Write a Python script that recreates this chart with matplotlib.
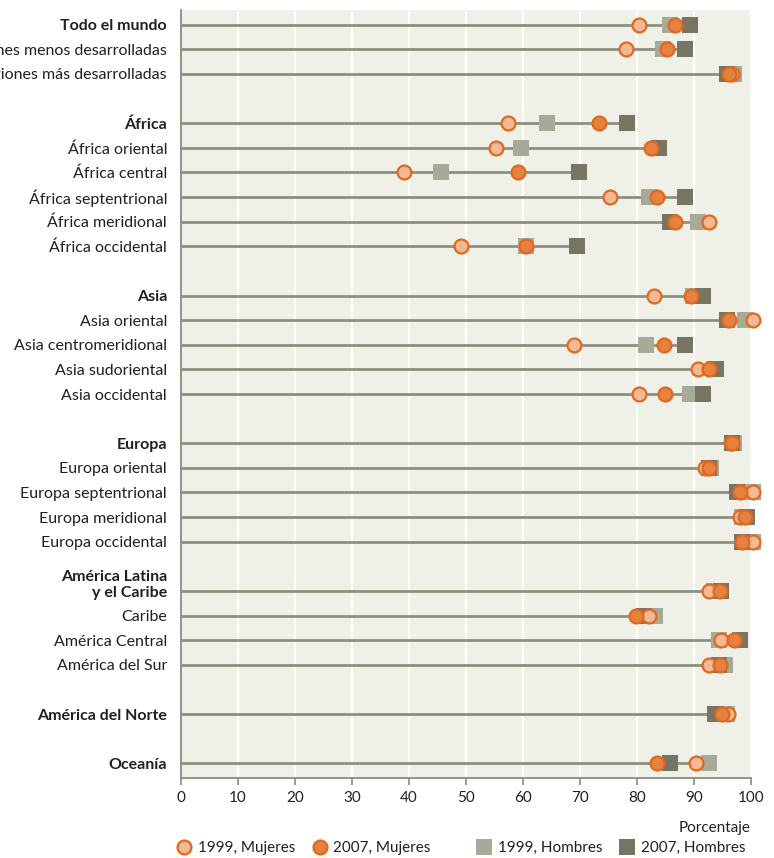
import matplotlib
matplotlib.use("Agg")
import matplotlib.pyplot as plt
import matplotlib.transforms as mtransforms
from matplotlib.lines import Line2D
import numpy as np

plt.rcParams["font.family"] = ["Lato", "DejaVu Sans"]

# regions, listed per block; blocks are separated by an empty row
GROUPS = [
    ["Todo el mundo", "Regiones menos desarrolladas", "Regiones más desarrolladas"],
    ["África", "África oriental", "África central", "África septentrional",
     "África meridional", "África occidental"],
    ["Asia", "Asia oriental", "Asia centromeridional", "Asia sudoriental",
     "Asia occidental"],
    ["Europa", "Europa oriental", "Europa septentrional", "Europa meridional",
     "Europa occidental"],
    ["América Latina\ny el Caribe", "Caribe", "América Central", "América del Sur"],
    ["América del Norte"],
    ["Oceanía"],
]
BOLD = {"Todo el mundo", "África", "Asia", "Europa",
        "América Latina\ny el Caribe", "América del Norte", "Oceanía"}

# percentage values, one per region in the order above
mujeres_1999 = [80.3, 78.0, 96.6, 57.4, 55.2, 39.2, 75.2, 92.6, 49.2,
                82.9, 100.3, 68.9, 90.7, 80.3,
                96.5, 91.9, 100.3, 98.0, 100.3,
                92.6, 82.1, 94.8, 92.6, 95.9, 90.3]
mujeres_2007 = [86.7, 85.3, 96.2, 73.4, 82.5, 59.2, 83.5, 86.6, 60.6,
                89.5, 96.2, 84.8, 92.6, 84.9,
                96.7, 92.6, 98.1, 98.9, 98.5,
                94.5, 79.9, 97.1, 94.5, 94.9, 83.5]
hombres_1999 = [85.8, 84.5, 97.1, 64.2, 59.7, 45.7, 82.1, 90.7, 60.6,
                89.9, 99.0, 81.6, 93.5, 89.3,
                97.1, 93.0, 100.4, 98.5, 100.4,
                93.5, 83.1, 94.4, 95.4, 95.8, 92.7]
hombres_2007 = [89.3, 88.5, 95.8, 78.3, 83.8, 69.8, 88.5, 85.8, 69.5,
                91.6, 95.8, 88.5, 93.9, 91.6,
                96.7, 92.7, 97.6, 99.3, 98.5,
                94.8, 81.3, 98.1, 94.4, 93.6, 85.8]

LINE = "#8e907f"
AXIS = "#8a8c7c"
C_M99 = "#f2b995"
C_M07 = "#e5823f"
C_EDGE = "#e0681f"
C_H99 = "#a8aa98"
C_H07 = "#777562"
BG = "#eff0e7"
TXT = "#231f20"

# row slots: one blank slot between blocks
labels, rows = [], []
pos = 0
for g in GROUPS:
    for name in g:
        labels.append(name)
        rows.append(pos)
        pos += 1
    pos += 1
rows = np.array(rows)

fig = plt.figure(figsize=(7.74, 8.58), dpi=100)
ax = fig.add_axes([181 / 774, 1 - 778 / 858, 570 / 774, 768 / 858])
ax.set_facecolor(BG)

ends = np.max([mujeres_1999, mujeres_2007, hombres_1999, hombres_2007], axis=0)
ax.hlines(rows, 0, ends, color=LINE, lw=2, zorder=2)

ax.plot(hombres_1999, rows, "s", ms=11, color=C_H99, mew=0, zorder=3, clip_on=False)
ax.plot(hombres_2007, rows, "s", ms=11, color=C_H07, mew=0, zorder=4, clip_on=False)
ax.plot(mujeres_1999, rows, "o", ms=10, mfc=C_M99, mec=C_EDGE, mew=1.6, zorder=5, clip_on=False)
ax.plot(mujeres_2007, rows, "o", ms=10, mfc=C_M07, mec=C_EDGE, mew=1.6, zorder=6, clip_on=False)

ax.set_xlim(0, 100)
ax.set_ylim(rows[-1] + 0.6, -0.6)
ax.set_xticks(np.arange(0, 101, 10))
ax.grid(axis="x", color="white", lw=1.3, zorder=0)
ax.set_axisbelow(True)

ax.set_yticks(rows)
ax.set_yticklabels(labels)
ax.tick_params(axis="y", length=0, pad=10, labelsize=11.5, colors=TXT)
ax.tick_params(axis="x", length=5, width=1.2, color=AXIS, labelsize=11,
               labelcolor=TXT, pad=4)
for lab in ax.get_yticklabels():
    if lab.get_text() in BOLD:
        lab.set_fontweight("bold")
    if "\n" in lab.get_text():
        lab.set_va("bottom")
        lab.set_transform(lab.get_transform() + mtransforms.ScaledTranslation(0, -9 / 100, fig.dpi_scale_trans))

for s in ["top", "right"]:
    ax.spines[s].set_visible(False)
for s in ["left", "bottom"]:
    ax.spines[s].set_color(AXIS)
    ax.spines[s].set_linewidth(1.3)

fig.text(750 / 774, 1 - 828 / 858, "Porcentaje", ha="right", va="center",
         fontsize=11, color=TXT)

h_m = [
    Line2D([], [], ls="", marker="o", ms=10, mfc=C_M99, mec=C_EDGE, mew=1.6),
    Line2D([], [], ls="", marker="o", ms=10, mfc=C_M07, mec=C_EDGE, mew=1.6),
]
h_h = [
    Line2D([], [], ls="", marker="s", ms=11, color=C_H99, mew=0),
    Line2D([], [], ls="", marker="s", ms=11, color=C_H07, mew=0),
]
kw = dict(frameon=False, ncol=2, fontsize=11, handlelength=0.8,
          handletextpad=0.5, columnspacing=1.2, borderpad=0, borderaxespad=0,
          loc="center left", labelcolor=TXT)
leg1 = fig.legend(h_m, ["1999, Mujeres", "2007, Mujeres"],
                  bbox_to_anchor=(178 / 774, 1 - 848 / 858), **kw)
leg2 = fig.legend(h_h, ["1999, Hombres", "2007, Hombres"],
                  bbox_to_anchor=(478 / 774, 1 - 848 / 858), **kw)

fig.savefig("out.png", dpi=100, facecolor="white")
